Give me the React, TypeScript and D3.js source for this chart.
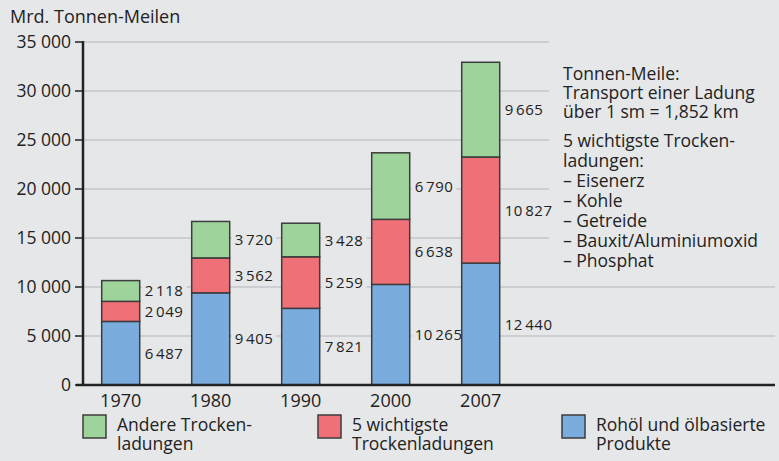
import React from "react";
import * as d3 from "d3";

const years = ["1970", "1980", "1990", "2000", "2007"];
const crudeOil = [6487, 9405, 7821, 10265, 12440];
const mainDryBulk = [2049, 3562, 5259, 6638, 10827];
const otherDryBulk = [2118, 3720, 3428, 6790, 9665];
const yTicks = [0, 5000, 10000, 15000, 20000, 25000, 30000, 35000];
const seriesNames = ["Rohöl und ölbasierte Produkte", "5 wichtigste Trockenladungen", "Andere Trockenladungen"];
const legendLines = [
  ["Andere Trocken-", "ladungen"],
  ["5 wichtigste", "Trockenladungen"],
  ["Rohöl und ölbasierte", "Produkte"],
];
const noteLines = [
  "Tonnen-Meile:",
  "Transport einer Ladung",
  "über 1 sm = 1,852 km",
];
const noteLines2 = [
  "5 wichtigste Trocken-",
  "ladungen:",
  "– Eisenerz",
  "– Kohle",
  "– Getreide",
  "– Bauxit/Aluminiumoxid",
  "– Phosphat",
];

const W = 779, H = 461;
const BG = "#e6e7e9";
const COLORS = ["#7aadde", "#f07078", "#9ed39b"];
const FONT = "'Open Sans', Lato, sans-serif";

export default function App() {
  const y = d3.scaleLinear().domain([0, 35000]).range([385, 42]);
  const x = d3.scalePoint<string>().domain(years).range([120.7, 480.7]);
  const barW = 38;
  const table = years.map((yr, i) => ({ year: yr, s0: crudeOil[i], s1: mainDryBulk[i], s2: otherDryBulk[i] }));
  const stack = d3.stack<any>().keys(["s0", "s1", "s2"]);
  const layers = stack(table);
  const loc = d3.formatLocale({ decimal: ",", thousands: "\u200A", grouping: [3], currency: ["", "€"] });
  const fmtVal = loc.format(",d");
  const tickLoc = d3.formatLocale({ decimal: ",", thousands: " ", grouping: [3], currency: ["", "€"] });
  const fmtTick = tickLoc.format(",d");
  const legendX = [83, 318, 562];

  return (
    <svg width={W} height={H} style={{ position: "absolute", left: 0, top: 0, fontFamily: FONT }}>
      <rect x={0} y={0} width={W} height={H} fill={BG} />
      <text x={10} y={23} fontSize={18} fill="#222">Mrd. Tonnen-Meilen</text>
      {yTicks.map((t) => (
        <g key={t}>
          {t > 0 && (
            <line x1={83} x2={t <= 10000 ? 775 : 549} y1={y(t)} y2={y(t)} stroke="#c5c6c8" strokeWidth={1.5} />
          )}
          <line x1={75} x2={83} y1={y(t)} y2={y(t)} stroke="#222" strokeWidth={1.5} />
          <text x={71} y={y(t) + 6} fontSize={17.5} textAnchor="end" fill="#222">{fmtTick(t)}</text>
        </g>
      ))}
      {layers.map((layer, li) =>
        layer.map((d, i) => {
          const cx = x(years[i])!;
          const mid = (y(d[0]) + y(d[1])) / 2;
          const label = fmtVal(d[1] - d[0]);
          const lw = (label.length - 1) * 9.2 + 8;
          return (
            <g key={`${li}-${i}`}>
              <rect x={cx - barW / 2} y={y(d[1])} width={barW} height={y(d[0]) - y(d[1])} fill={COLORS[li]} stroke="#3c3c3c" strokeWidth={1.5} />
              <rect x={cx + barW / 2 + 2} y={mid - 9} width={lw} height={18} fill={BG} />
              <text x={cx + barW / 2 + 5} y={mid + 5.5} fontSize={15} letterSpacing={0.6} fill="#222">{label}</text>
            </g>
          );
        })
      )}
      <line x1={83} x2={83} y1={41} y2={386} stroke="#222" strokeWidth={2.5} />
      <line x1={76} x2={775} y1={385} y2={385} stroke="#222" strokeWidth={2.5} />
      {years.map((yr) => (
        <text key={yr} x={x(yr)!} y={407} fontSize={18} textAnchor="middle" fill="#222">{yr}</text>
      ))}
      {[2, 1, 0].map((si, k) => (
        <g key={si}>
          <rect x={legendX[k]} y={415} width={23} height={23} fill={COLORS[si]} stroke="#3c3c3c" strokeWidth={1.5} />
          <text x={legendX[k] + 34} y={431} fontSize={17.5} fill="#222">
            <title>{seriesNames[si]}</title>
            <tspan x={legendX[k] + 34} y={431}>{legendLines[k][0]}</tspan>
            <tspan x={legendX[k] + 34} y={450}>{legendLines[k][1]}</tspan>
          </text>
        </g>
      ))}
      <text fontSize={17.5} fill="#222">
        {noteLines.map((l, i) => (
          <tspan key={l} x={563} y={80 + i * 19}>{l}</tspan>
        ))}
      </text>
      <text fontSize={17.5} fill="#222">
        {noteLines2.map((l, i) => (
          <tspan key={l} x={563} y={147 + i * 20}>{l}</tspan>
        ))}
      </text>
    </svg>
  );
}
